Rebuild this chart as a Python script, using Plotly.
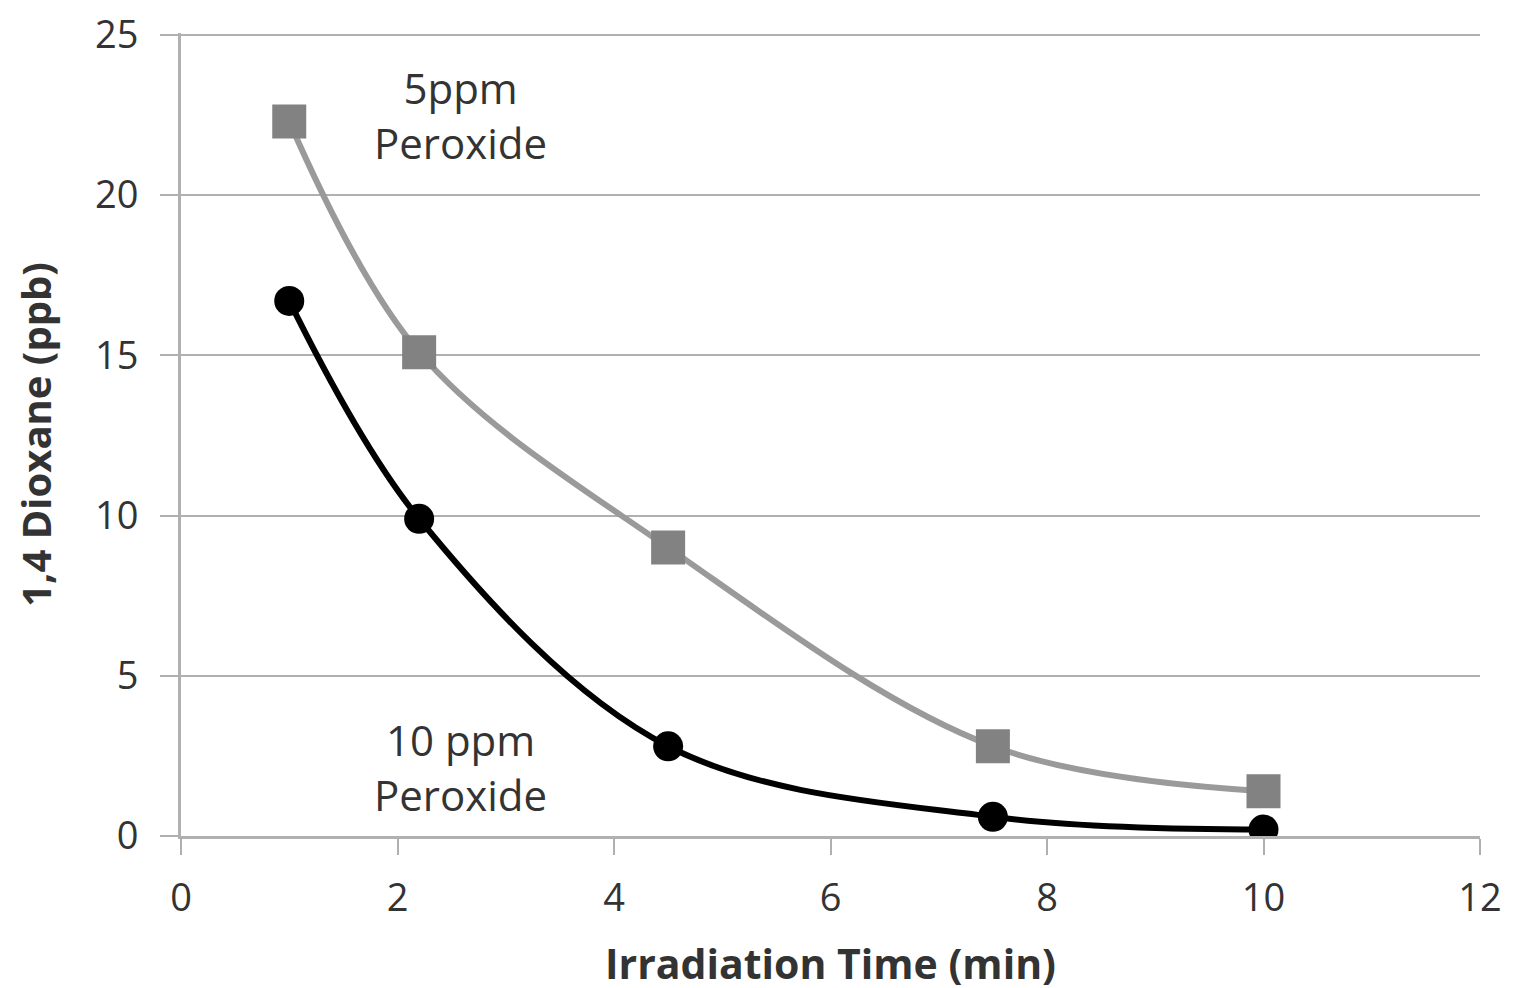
import plotly.graph_objects as go

# Irradiation time (min)
time_min = [1, 2.2, 4.5, 7.5, 10]
# 1,4 Dioxane (ppb)
dioxane_5ppm = [22.3, 15.1, 9.0, 2.8, 1.4]
dioxane_10ppm = [16.7, 9.9, 2.8, 0.6, 0.2]

x_ticks = [0, 2, 4, 6, 8, 10, 12]
y_ticks = [0, 5, 10, 15, 20, 25]

FONT = "Open Sans, Noto Sans, sans-serif"
TEXT = "#333333"
GRID = "#b0b0b0"

fig = go.Figure()

fig.add_trace(go.Scatter(
    x=time_min, y=dioxane_5ppm,
    mode="lines+markers",
    line=dict(color="#9a9a9a", width=6, shape="spline", smoothing=1.0),
    marker=dict(symbol="square", size=34, color="#828282"),
    name="5ppm Peroxide",
))

fig.add_trace(go.Scatter(
    x=time_min, y=dioxane_10ppm,
    mode="lines+markers",
    line=dict(color="#000000", width=6, shape="spline", smoothing=1.0),
    marker=dict(symbol="circle", size=30, color="#000000"),
    name="10 ppm Peroxide",
))

# Series labels
fig.add_annotation(x=2.58, y=22.5, text="5ppm<br>Peroxide", showarrow=False,
                   font=dict(family=FONT, size=42, color=TEXT), align="center")
fig.add_annotation(x=2.58, y=2.15, text="10 ppm<br>Peroxide", showarrow=False,
                   font=dict(family=FONT, size=42, color=TEXT), align="center")

fig.update_layout(
    width=1514,
    height=988,
    paper_bgcolor="white",
    plot_bgcolor="white",
    showlegend=False,
    font=dict(family=FONT, color=TEXT),
    margin=dict(l=173, r=42, t=25, b=160),
    xaxis=dict(
        range=[0, 12],
        tickvals=x_ticks,
        showgrid=False,
        zeroline=False,
        showline=True,
        linecolor=GRID,
        linewidth=3,
        ticks="outside",
        ticklen=16,
        tickwidth=2,
        tickcolor=GRID,
        ticklabelstandoff=10,
        tickfont=dict(size=38, color=TEXT),
        automargin=False,
        title=dict(text="<b>Irradiation Time (min)</b>",
                   font=dict(size=41, color=TEXT), standoff=30),
    ),
    yaxis=dict(
        range=[0, 25.06],
        tickvals=y_ticks,
        showgrid=True,
        gridcolor=GRID,
        gridwidth=2,
        zeroline=False,
        showline=True,
        linecolor=GRID,
        linewidth=3,
        ticks="outside",
        ticklen=18,
        tickwidth=2,
        tickcolor=GRID,
        ticklabelstandoff=14,
        ticklabeloverflow="allow",
        tickfont=dict(size=38, color=TEXT),
        automargin=False,
        title=dict(text="<b>1,4 Dioxane (ppb)</b>",
                   font=dict(size=40, color=TEXT), standoff=34),
    ),
)

fig.write_html("out.html")
